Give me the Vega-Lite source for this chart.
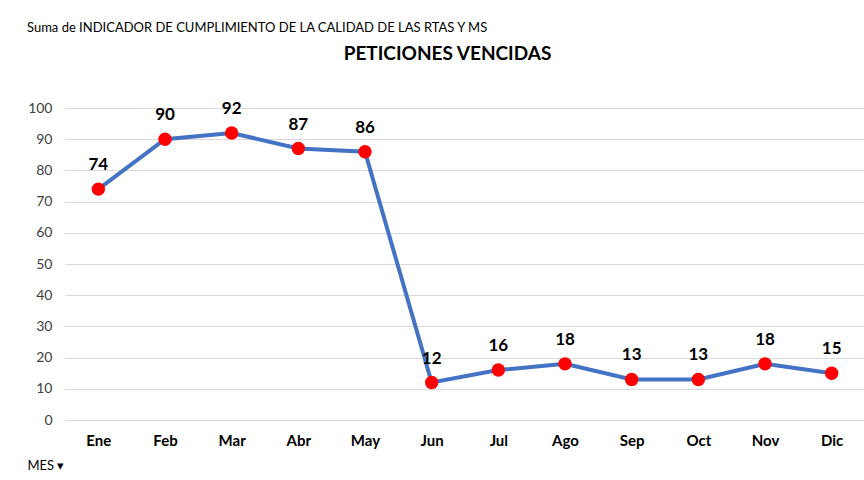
{
  "$schema": "https://vega.github.io/schema/vega-lite/v6.json",
  "width": 800,
  "height": 312,
  "autosize": {"type": "none"},
  "padding": {"left": 65, "top": 108, "right": 0, "bottom": 60},
  "background": "white",
  "config": {"view": {"stroke": null}, "font": "Lato"},
  "title": {
    "text": "Suma de INDICADOR DE CUMPLIMIENTO DE LA CALIDAD DE LAS RTAS Y MS",
    "fontSize": 13,
    "fontWeight": "normal",
    "font": "Lato",
    "color": "#000000",
    "anchor": "start",
    "frame": "bounds",
    "offset": 9
  },
  "data": {
    "values": [
      {"mes": "Ene", "valor": 74},
      {"mes": "Feb", "valor": 90},
      {"mes": "Mar", "valor": 92},
      {"mes": "Abr", "valor": 87},
      {"mes": "May", "valor": 86},
      {"mes": "Jun", "valor": 12},
      {"mes": "Jul", "valor": 16},
      {"mes": "Ago", "valor": 18},
      {"mes": "Sep", "valor": 13},
      {"mes": "Oct", "valor": 13},
      {"mes": "Nov", "valor": 18},
      {"mes": "Dic", "valor": 15}
    ]
  },
  "encoding": {
    "x": {
      "field": "mes",
      "type": "ordinal",
      "sort": null,
      "scale": {"paddingInner": 0, "paddingOuter": 0.5},
      "axis": {
        "title": "MES  ▾",
        "titleX": -38,
        "titleY": 45,
        "titleAlign": "left",
        "titleBaseline": "middle",
        "titleFontSize": 13,
        "titleFontWeight": "normal",
        "titleColor": "#000000",
        "titleFont": "Lato",
        "labelAngle": 0,
        "labelFontSize": 15,
        "labelFontWeight": "bold",
        "labelColor": "#000000",
        "labelPadding": 13,
        "ticks": false,
        "domain": false,
        "grid": false
      }
    },
    "y": {
      "field": "valor",
      "type": "quantitative",
      "scale": {"domain": [0, 100]},
      "axis": {
        "title": "PETICIONES VENCIDAS",
        "titleAngle": 0,
        "titleX": 382,
        "titleY": -55,
        "titleAlign": "center",
        "titleBaseline": "middle",
        "titleFontSize": 19,
        "titleFontWeight": "bold",
        "titleColor": "#000000",
        "titleFont": "Lato",
        "values": [0, 10, 20, 30, 40, 50, 60, 70, 80, 90, 100],
        "labelFontSize": 14,
        "labelColor": "#404040",
        "labelPadding": 13,
        "ticks": false,
        "domain": false,
        "gridColor": "#d9d9d9",
        "gridWidth": 1
      }
    }
  },
  "layer": [
    {
      "mark": {"type": "line", "color": "#4472C4", "strokeWidth": 4}
    },
    {
      "mark": {"type": "point", "filled": true, "color": "#ff0000", "size": 180, "opacity": 1}
    },
    {
      "mark": {"type": "text", "dy": -24, "fontSize": 17, "fontWeight": "bold", "color": "#000000"},
      "encoding": {"text": {"field": "valor", "type": "quantitative"}}
    }
  ]
}
